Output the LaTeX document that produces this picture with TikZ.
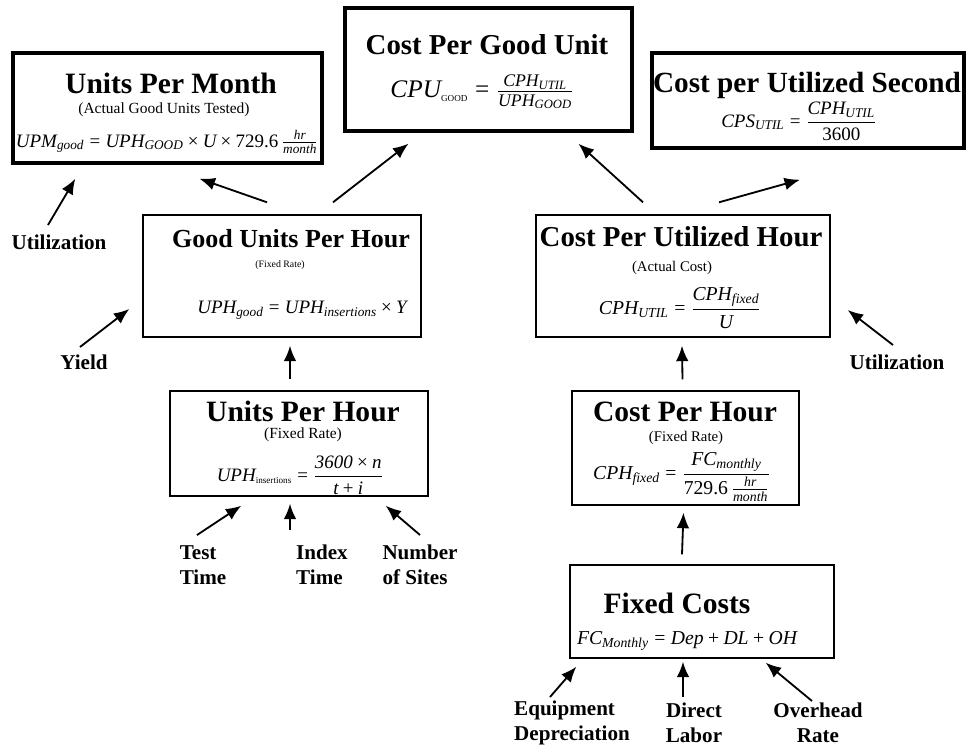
\documentclass[tikz,border=0pt]{standalone}
\usepackage{fix-cm}
\usepackage{amsmath}
\usepackage{fontspec}
\setmainfont{Liberation Serif}
\usetikzlibrary{arrows.meta,calc,fit}

% italic text inside formulas
\newcommand{\vv}[1]{\text{\itshape #1}}
\newcommand{\uc}[1]{\text{\upshape\fontsize{6.5}{7}\selectfont #1}}
\newcommand{\eq}{\mathrel{\text{=}}}
\newcommand{\by}{\mathbin{\text{×}}}
\newcommand{\pl}{\mathbin{\text{+}}}

\begin{document}
\begin{tikzpicture}[x=0.025cm, y=-0.025cm,
	bigbox/.style={draw, line width=2.4pt, inner sep=0},
	smallbox/.style={draw, line width=1pt, inner sep=0},
	ttl/.style={font=\bfseries\fontsize{#1}{#1}\selectfont, inner sep=0},
	sub/.style={font=\fontsize{#1}{#1}\selectfont, inner sep=0},
	eqn/.style={font=\fontsize{#1}{#1}\selectfont, inner sep=0},
	lbl/.style={font=\bfseries\fontsize{15}{18}\selectfont, align=center, inner sep=0},
	arr/.style={-{Latex[length=11pt,width=9pt]}, line width=1.3pt}]
	\useasboundingbox (0,0) rectangle (972,751);

	% top row
	\node[bigbox, fit={(13,53) (322,163)}] (upm) {};
	\node[ttl=21] (upmT) at (171,83) {Units Per Month};
	\node[sub=11] (upmS) at (164,110) {(Actual Good Units Tested)};
	\node[eqn=13.5] (upmF) at (167,142)
		{$\vv{UPM}_{\vv{good}} \eq \vv{UPH}_{\vv{GOOD}} \by \vv{U} \by \text{729.6}\,\frac{\vv{hr}}{\vv{month}}$};

	\node[bigbox, fit={(345,8) (632,131)}] (cpu) {};
	\node[ttl=20.5] (cpuT) at (487,45) {Cost Per Good Unit};
	\node[eqn=18] (cpuF) at (482,92)
		{$\vv{CPU}_{\uc{GOOD}} \eq \frac{\vv{CPH}_{\vv{UTIL}}}{\vv{UPH}_{\vv{GOOD}}}$};

	\node[bigbox, fit={(652,53) (964,148)}] (cps) {};
	\node[ttl=20.8] (cpsT) at (807,85) {Cost per Utilized Second};
	\node[eqn=13.5] (cpsF) at (799,121)
		{$\vv{CPS}_{\vv{UTIL}} \eq \dfrac{\vv{CPH}_{\vv{UTIL}}}{\text{3600}}$};

	% middle row
	\node[smallbox, fit={(143,215) (421,337)}] (guph) {};
	\node[ttl=18.5] (guphT) at (291,239) {Good Units Per Hour};
	\node[sub=7] (guphS) at (280,265) {(Fixed Rate)};
	\node[eqn=13.5] (guphF) at (302,310)
		{$\vv{UPH}_{\vv{good}} \eq \vv{UPH}_{\vv{insertions}} \by \vv{Y}$};

	\node[smallbox, fit={(536,215) (830,337)}] (cpuh) {};
	\node[ttl=20.5] (cpuhT) at (681,237) {Cost Per Utilized Hour};
	\node[sub=10.5] (cpuhS) at (672,268) {(Actual Cost)};
	\node[eqn=14] (cpuhF) at (680,308)
		{$\vv{CPH}_{\vv{UTIL}} \eq \dfrac{\vv{CPH}_{\vv{fixed}}}{\vv{U}}$};

	% lower row
	\node[smallbox, fit={(170,391) (428,496)}] (uph) {};
	\node[ttl=21] (uphT) at (303,411) {Units Per Hour};
	\node[sub=11] (uphS) at (303,435) {(Fixed Rate)};
	\node[eqn=13.5] (uphF) at (300,475)
		{$\vv{UPH}_{\uc{insertions}} \eq \dfrac{\vv{3600}\by \vv{n}}{\vv{t}\pl\vv{i}}$};

	\node[smallbox, fit={(572,391) (799,505)}] (cph) {};
	\node[ttl=21] (cphT) at (685,412) {Cost Per Hour};
	\node[sub=10.5] (cphS) at (686,438) {(Fixed Rate)};
	\node[eqn=14] (cphF) at (682,477)
		{$\vv{CPH}_{\vv{fixed}} \eq \dfrac{\vv{FC}_{\vv{monthly}}}{\text{729.6}\,\frac{\vv{hr}}{\vv{month}}}$};

	\node[smallbox, fit={(570,565) (834,658)}] (fc) {};
	\node[ttl=21] (fcT) at (677,603) {Fixed Costs};
	\node[eqn=14] (fcF) at (687,641)
		{$\vv{FC}_{\vv{Monthly}} \eq \vv{Dep} \pl \vv{DL} \pl \vv{OH}$};

	% inputs
	\node[lbl] (utilL) at (59,242) {Utilization};
	\node[lbl] (yield) at (84,362) {Yield};
	\node[lbl] (utilR) at (897,362) {Utilization};
	\node[lbl, align=left] (test) at (203,565) {Test\\Time};
	\node[lbl, align=left] (index) at (322,565) {Index\\Time};
	\node[lbl, align=left] (sites) at (420,565) {Number\\of Sites};
	\node[lbl, align=left] (equip) at (572,723) {Equipment\\Depreciation};
	\node[lbl] (direct) at (694,723) {Direct\\Labor};
	\node[lbl] (overhead) at (818,723) {Overhead\\Rate};

	% connectors
	\draw[arr] ($(utilL)+(-11,-17)$) -- ($(upm.south west)+(64,14)$);
	\draw[arr] ($(guph.north)+(-15,-12)$) -- ($(upm.south)+(32,14)$);
	\draw[arr] ($(guph.north)+(51,-12)$) -- ($(cpu.south)+(-80,11)$);
	\draw[arr] ($(cpuh.north)+(-40,-12)$) -- ($(cpu.south)+(90,11)$);
	\draw[arr] ($(cpuh.north)+(36,-12)$) -- ($(cps.south)+(-8,30)$);
	\draw[arr] ($(yield)+(-4,-15)$) -- ($(guph.west)+(-13,33)$);
	\draw[arr] ($(utilR)+(-4,-17)$) -- ($(cpuh.east)+(17,34)$);
	\draw[arr] ($(uph.north)+(-9,-11)$) -- ($(guph.south)+(8,8)$);
	\draw[arr] ($(cph.north)+(-3,-11)$) -- ($(cpuh.south)+(-1,8)$);
	\draw[arr] ($(fc.north)+(-20,-10)$) -- ($(cph.south)+(-2,7)$);
	\draw[arr] ($(test)+(-6,-30)$) -- ($(uph.south west)+(72,9)$);
	\draw[arr] ($(index)+(-32,-35)$) -- ($(uph.south)+(-9,7)$);
	\draw[arr] ($(sites)+(0,-30)$) -- ($(uph.south east)+(-43,9)$);
	\draw[arr] ($(equip)+(-22,-26)$) -- ($(fc.south west)+(7,8)$);
	\draw[arr] ($(direct)+(-11,-26)$) -- ($(fc.south)+(-19,3)$);
	\draw[arr] ($(overhead)+(-6,-22)$) -- ($(fc.south east)+(-69,4)$);
\end{tikzpicture}
\end{document}
